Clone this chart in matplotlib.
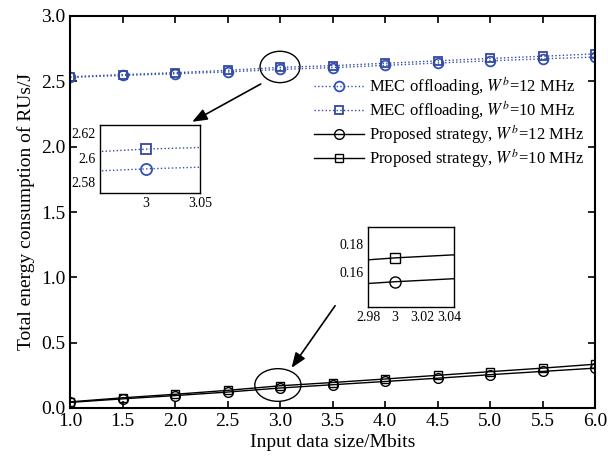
import matplotlib
matplotlib.use('Agg')
import matplotlib.pyplot as plt
from matplotlib.patches import Ellipse

plt.rcParams['font.family'] = ['Liberation Serif', 'DejaVu Serif']
plt.rcParams['mathtext.fontset'] = 'stix'

# data
data_size = [1.0, 1.5, 2.0, 2.5, 3.0, 3.5, 4.0, 4.5, 5.0, 5.5, 6.0]
mec_12 = [2.530, 2.545, 2.558, 2.572, 2.591, 2.605, 2.622, 2.640, 2.657, 2.672, 2.686]
mec_10 = [2.535, 2.552, 2.566, 2.584, 2.607, 2.620, 2.638, 2.657, 2.675, 2.692, 2.710]
prop_12 = [0.043, 0.070, 0.095, 0.122, 0.153, 0.178, 0.203, 0.228, 0.255, 0.280, 0.305]
prop_10 = [0.047, 0.078, 0.105, 0.135, 0.170, 0.195, 0.222, 0.250, 0.278, 0.305, 0.335]

labels = [r'MEC offloading, $W^b$=12 MHz',
          r'MEC offloading, $W^b$=10 MHz',
          r'Proposed strategy, $W^b$=12 MHz',
          r'Proposed strategy, $W^b$=10 MHz']

BLUE = '#2f52b8'
BLUE_D = '#35489e'

W, H = 610, 466
fig = plt.figure(figsize=(W / 100, H / 100), dpi=100)
ax = fig.add_axes([70 / W, 1 - 408 / H, 525 / W, 392 / H])


def draw_series(a, ms=7, lw=1.0):
    a.plot(data_size, mec_12, ls=':', color=BLUE, lw=lw, marker='o', ms=ms,
           mfc='none', mec=BLUE, mew=1.3, label=labels[0])
    a.plot(data_size, mec_10, ls=':', color=BLUE_D, lw=lw, marker='s', ms=ms - 1,
           mfc='none', mec=BLUE_D, mew=1.3, label=labels[1])
    a.plot(data_size, prop_12, ls='-', color='k', lw=lw, marker='o', ms=ms,
           mfc='none', mec='k', mew=1.0, label=labels[2])
    a.plot(data_size, prop_10, ls='-', color='k', lw=lw, marker='s', ms=ms - 1,
           mfc='none', mec='k', mew=1.0, label=labels[3])


draw_series(ax)
ax.set_xlim(1.0, 6.0)
ax.set_ylim(0.0, 3.0)
ax.set_xticks(data_size)
ax.set_xticklabels([f'{v:.1f}' for v in data_size])
ax.set_yticks([0.0, 0.5, 1.0, 1.5, 2.0, 2.5, 3.0])
ax.set_yticklabels([f'{v:.1f}' for v in [0.0, 0.5, 1.0, 1.5, 2.0, 2.5, 3.0]])
ax.tick_params(direction='in', top=True, right=True, labelsize=14, length=5, width=1.2)
for sp in ax.spines.values():
    sp.set_linewidth(1.5)
ax.set_xlabel('Input data size/Mbits', fontsize=14, labelpad=3)
ax.set_ylabel('Total energy consumption of RUs/J', fontsize=14, labelpad=4)

leg = ax.legend(loc='upper left', bbox_to_anchor=(0.452, 0.868), frameon=False,
                fontsize=12, handlelength=3.0, handletextpad=0.3, labelspacing=0.03,
                borderaxespad=0)

# circled regions and arrows
ax.add_patch(Ellipse((3.0, 2.61), 0.38, 0.24, fill=False, color='k', lw=1.0))
ax.add_patch(Ellipse((2.98, 0.176), 0.44, 0.25, fill=False, color='k', lw=1.0))
ax.annotate('', xy=(2.14, 2.18), xytext=(2.84, 2.49),
            arrowprops=dict(arrowstyle='-|>,head_length=0.9,head_width=0.35',
                            color='k', lw=1.2))
ax.annotate('', xy=(3.095, 0.29), xytext=(3.54, 0.80),
            arrowprops=dict(arrowstyle='-|>,head_length=0.9,head_width=0.35',
                            color='k', lw=1.2))

# inset 1: MEC offloading near x=3
ins1 = fig.add_axes([100 / W, 1 - 193 / H, 100 / W, 68 / H])
draw_series(ins1, ms=8)
ins1.set_xlim(2.958, 3.047)
ins1.set_ylim(2.5715, 2.6265)
ins1.set_xticks([3.0, 3.05])
ins1.set_xticklabels(['3', '3.05'])
ins1.set_yticks([2.58, 2.60, 2.62])
ins1.set_yticklabels(['2.58', '2.6', '2.62'])
ins1.tick_params(length=0, labelsize=10, pad=3)

# inset 2: proposed strategy near x=3
ins2 = fig.add_axes([368 / W, 1 - 307 / H, 86 / W, 80 / H])
draw_series(ins2, ms=8)
ins2.set_xlim(2.9823, 3.0433)
ins2.set_ylim(0.135, 0.192)
ins2.set_xticks([2.98, 3.0, 3.02, 3.04])
ins2.set_xticklabels(['2.98', '3', '3.02', '3.04'])
ins2.set_yticks([0.16, 0.18])
ins2.set_yticklabels(['0.16', '0.18'])
ins2.tick_params(length=0, labelsize=10, pad=3)

for a in (ins1, ins2):
    for sp in a.spines.values():
        sp.set_linewidth(1.0)

fig.savefig('out.png', dpi=100)
